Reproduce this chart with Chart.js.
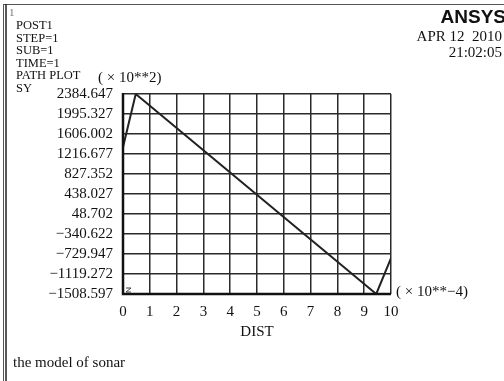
<!DOCTYPE html>
<html>
<head>
<meta charset="utf-8">
<script src="https://cdn.jsdelivr.net/npm/chart.js@4"></script>
<style>
html,body{margin:0;padding:0;background:#fff;}
#wrap{position:relative;width:504px;height:381px;}
canvas{display:block;}
</style>
</head>
<body>
<div id="wrap"><canvas id="c" width="504" height="381"></canvas></div>
<script>
// Data (DIST in units of 1e-4, SY in units of 1e2)
const distValues = [0, 0.475, 9.45, 10];
const syValues = [1350, 2384.647, -1508.597, -810];
const yTickValues = [2384.647, 1995.327, 1606.002, 1216.677, 827.352, 438.027, 48.702, -340.622, -729.947, -1119.272, -1508.597];
const xTickValues = [0, 1, 2, 3, 4, 5, 6, 7, 8, 9, 10];
const headerLines = ["POST1", "STEP=1", "SUB=1", "TIME=1", "PATH PLOT", "SY"];
const xAxisTitle = "DIST";
const yUnit = "( \u00d7 10**2)";
const xUnit = "( \u00d7 10**\u22124)";
const caption = "the model of sonar";

const serif = "'Liberation Serif','Times New Roman',serif";

const decor = {
  id: 'decor',
  afterDraw(chart) {
    const ctx = chart.ctx;
    const ca = chart.chartArea;
    ctx.save();
    // frame
    ctx.strokeStyle = '#555';
    ctx.lineWidth = 1;
    ctx.beginPath(); ctx.moveTo(3, 4.5); ctx.lineTo(504, 4.5); ctx.stroke();
    ctx.beginPath(); ctx.moveTo(3.5, 4); ctx.lineTo(3.5, 381); ctx.stroke();
    ctx.strokeStyle = '#222';
    ctx.lineWidth = 1.5;
    ctx.beginPath(); ctx.moveTo(6, 4); ctx.lineTo(6, 381); ctx.stroke();

    ctx.fillStyle = '#111';
    ctx.textBaseline = 'alphabetic';
    // tiny window number
    ctx.font = '11px ' + serif;
    ctx.fillStyle = '#777';
    ctx.textAlign = 'left';
    ctx.fillText('1', 9, 16);
    ctx.fillStyle = '#111';
    // header lines
    ctx.font = '12.5px ' + serif;
    headerLines.forEach((t, i) => ctx.fillText(t, 16, 29 + i * 12.5));
    // y unit
    ctx.font = '15px ' + serif;
    ctx.fillText(yUnit, 98, 82);
    // ANSYS logo
    ctx.textAlign = 'right';
    ctx.font = 'bold 19px "Liberation Sans",Arial,sans-serif';
    ctx.fillText('ANSYS', 506, 22.5);
    ctx.font = '15px ' + serif;
    ctx.fillText('APR 12  2010', 502, 40.5);
    ctx.fillText('21:02:05', 502, 56.5);
    // x unit
    ctx.textAlign = 'left';
    ctx.textBaseline = 'middle';
    ctx.fillText(xUnit, 396, ca.bottom - 2);
    // x title
    ctx.textAlign = 'center';
    ctx.fillText(xAxisTitle, (ca.left + ca.right) / 2, 332);
    // caption
    ctx.textAlign = 'left';
    ctx.textBaseline = 'alphabetic';
    ctx.fillText(caption, 13, 367);
    // small triad marker at plot origin
    ctx.strokeStyle = '#444';
    ctx.lineWidth = 1;
    ctx.beginPath();
    ctx.moveTo(ca.left + 3, ca.bottom - 6); ctx.lineTo(ca.left + 8, ca.bottom - 6);
    ctx.lineTo(ca.left + 3, ca.bottom - 2); ctx.lineTo(ca.left + 8, ca.bottom - 2);
    ctx.stroke();
    // thick axes
    ctx.strokeStyle = '#111';
    ctx.lineWidth = 2.5;
    ctx.beginPath();
    ctx.moveTo(ca.left, ca.top - 1);
    ctx.lineTo(ca.left, ca.bottom);
    ctx.lineTo(ca.right, ca.bottom);
    ctx.stroke();
    ctx.restore();
  }
};

new Chart(document.getElementById('c'), {
  type: 'line',
  data: {
    datasets: [{
      data: distValues.map((x, i) => ({ x: x, y: syValues[i] })),
      borderColor: '#222',
      borderWidth: 2,
      pointRadius: 0,
      tension: 0,
      fill: false
    }]
  },
  options: {
    responsive: false,
    animation: false,
    devicePixelRatio: 1,
    layout: { padding: { left: 0, top: 94, right: 113, bottom: 0 } },
    plugins: { legend: { display: false }, tooltip: { enabled: false } },
    scales: {
      x: {
        type: 'linear',
        min: 0, max: 10,
        afterBuildTicks: s => { s.ticks = xTickValues.map(v => ({ value: v })); },
        afterFit: s => { s.height = 87; },
        grid: { color: '#2a2a2a', lineWidth: 1.5, drawTicks: false },
        border: { display: false },
        ticks: { padding: 9, color: '#111', font: { family: serif, size: 15 }, maxRotation: 0, autoSkip: false,
          callback: v => String(v) }
      },
      y: {
        type: 'linear',
        min: yTickValues[yTickValues.length - 1], max: yTickValues[0],
        afterBuildTicks: s => { s.ticks = yTickValues.slice().reverse().map(v => ({ value: v })); },
        afterFit: s => { s.width = 123; },
        grid: { color: '#2a2a2a', lineWidth: 1.5, drawTicks: false },
        border: { display: false },
        ticks: { padding: 10, color: '#111', font: { family: serif, size: 15 }, autoSkip: false,
          callback: v => {
            const t = yTickValues.find(y => Math.abs(y - v) < 1e-6);
            const s = (t !== undefined ? t : v).toFixed(3);
            return s.replace('-', '\u2212');
          } }
      }
    }
  },
  plugins: [decor]
});
</script>
</body>
</html>
